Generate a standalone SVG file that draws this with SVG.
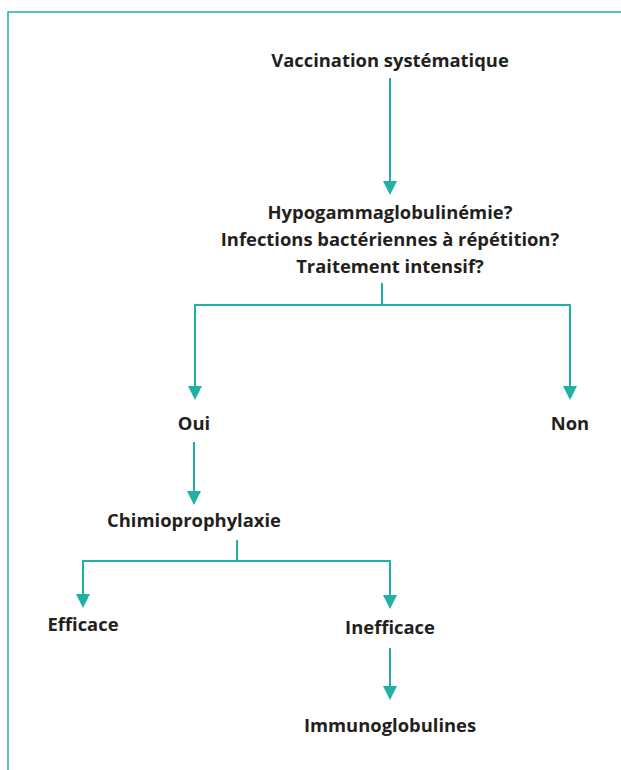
<svg xmlns="http://www.w3.org/2000/svg" width="621" height="770" viewBox="0 0 621 770">
<defs>
<style>
.t{font-family:"Open Sans","Liberation Sans",sans-serif;font-weight:bold;font-size:18.4px;fill:#231f20;text-anchor:middle}
.c{fill:none;stroke:#20b0a8;stroke-width:2}
</style>
</defs>
<rect width="621" height="770" fill="#fff"/>
<path d="M8,775 L8,12 L630,12" fill="none" stroke="#20b0a8" stroke-width="1.5"/>
<g id="connectors">
<path class="c" d="M390,78 L390,181"/>
<path d="M383,181 L397,181 L390,195 Z" fill="#20b0a8"/>
<path class="c" d="M382,283 L382,305 M195,305 L570,305"/>
<path class="c" d="M195,304 L195,386"/>
<path d="M188,386 L202,386 L195,400 Z" fill="#20b0a8"/>
<path class="c" d="M570,304 L570,386"/>
<path d="M563,386 L577,386 L570,400 Z" fill="#20b0a8"/>
<path class="c" d="M194,442 L194,491"/>
<path d="M187,491 L201,491 L194,505 Z" fill="#20b0a8"/>
<path class="c" d="M237,540 L237,561 M83,561 L390,561"/>
<path class="c" d="M83,560 L83,594"/>
<path d="M76,594 L90,594 L83,608 Z" fill="#20b0a8"/>
<path class="c" d="M390,560 L390,595"/>
<path d="M383,595 L397,595 L390,609 Z" fill="#20b0a8"/>
<path class="c" d="M390,648 L390,686"/>
<path d="M383,686 L397,686 L390,700 Z" fill="#20b0a8"/>
</g>
<g id="n1"><text class="t" x="390" y="67">Vaccination systématique</text></g>
<g id="n2"><text class="t" x="390" y="219">Hypogammaglobulinémie?</text><text class="t" x="390" y="246">Infections bactériennes à répétition?</text><text class="t" x="390" y="273">Traitement intensif?</text></g>
<g id="n3"><text class="t" x="194" y="430">Oui</text></g>
<g id="n4"><text class="t" x="570" y="430">Non</text></g>
<g id="n5"><text class="t" x="194" y="527">Chimioprophylaxie</text></g>
<g id="n6"><text class="t" x="83" y="631">Efficace</text></g>
<g id="n7"><text class="t" x="390" y="634">Inefficace</text></g>
<g id="n8"><text class="t" x="390" y="732">Immunoglobulines</text></g>
</svg>
